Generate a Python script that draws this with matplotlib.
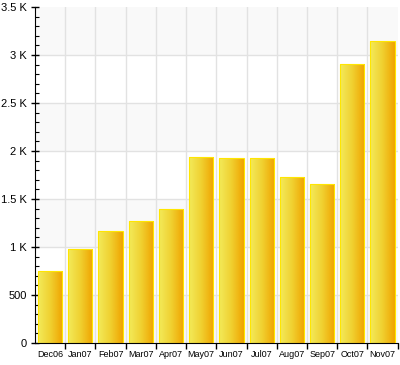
import numpy as np
import matplotlib
matplotlib.use("Agg")
import matplotlib.pyplot as plt
from matplotlib.colors import LinearSegmentedColormap
from matplotlib.ticker import MultipleLocator, FuncFormatter

# Data
months = ["Dec06", "Jan07", "Feb07", "Mar07", "Apr07", "May07",
          "Jun07", "Jul07", "Aug07", "Sep07", "Oct07", "Nov07"]
values = [750, 980, 1167, 1271, 1393, 1940, 1930, 1930, 1732, 1655, 2903, 3149]

plt.rcParams['font.family'] = ['Liberation Sans', 'DejaVu Sans']

fig = plt.figure(figsize=(4.0, 3.65), dpi=100)
ax = fig.add_axes([35 / 400, 22 / 365, 362.7 / 400, 336 / 365])

n = len(months)
x = np.arange(n)

# Alternating horizontal bands
for i, lo in enumerate(range(0, 3500, 500)):
    if i % 2 == 0:
        ax.axhspan(lo, lo + 500, color="#f9f9f9", zorder=0, lw=0)

# grid lines
for yv in range(500, 3500, 500):
    ax.axhline(yv, color="#e2e2e2", lw=1, zorder=1)
for xv in np.arange(0.5, n - 0.5, 1):
    ax.axvline(xv, color="#e2e2e2", lw=1, zorder=1)

# bars with gradient fill
cmap = LinearSegmentedColormap.from_list("bar", ["#f3ea5a", "#f0d030", "#f0a300"])
grad = np.linspace(0, 1, 64).reshape(1, -1)
bars = ax.bar(x, values, width=0.8, color="none", edgecolor="#ffe600", lw=0.8, zorder=3)
for b in bars:
    x0, y0 = b.get_x(), b.get_y()
    w, h = b.get_width(), b.get_height()
    im = ax.imshow(grad, cmap=cmap, aspect="auto", extent=[x0, x0 + w, y0, y0 + h],
                   zorder=2, interpolation="bicubic")
    im.set_clip_path(b)
ax.set_xlim(-0.5, n - 0.5)
ax.set_ylim(0, 3500)

# axes styling
for s in ["top", "right"]:
    ax.spines[s].set_visible(False)
ax.spines["left"].set_color("black")
ax.spines["bottom"].set_color("black")

ax.yaxis.set_major_locator(MultipleLocator(500))
ax.yaxis.set_minor_locator(MultipleLocator(100))

def kfmt(v, pos):
    if v >= 1000:
        return "%g K" % (v / 1000)
    return "%d" % v

ax.yaxis.set_major_formatter(FuncFormatter(kfmt))
ax.tick_params(axis="y", which="major", direction="inout", length=6, width=1,
               labelsize=8, pad=3, colors="black")
ax.tick_params(axis="y", which="minor", direction="in", length=3, width=0.8, colors="black")

ax.set_xticks(x)
ax.set_xticklabels(months)
ax.tick_params(axis="x", which="major", length=0, labelsize=6.5, pad=5)
ax.set_xticks(np.arange(0.5, n, 1), minor=True)
ax.tick_params(axis="x", which="minor", direction="out", length=4, width=1, colors="black")

fig.savefig("out.png", dpi=100)
